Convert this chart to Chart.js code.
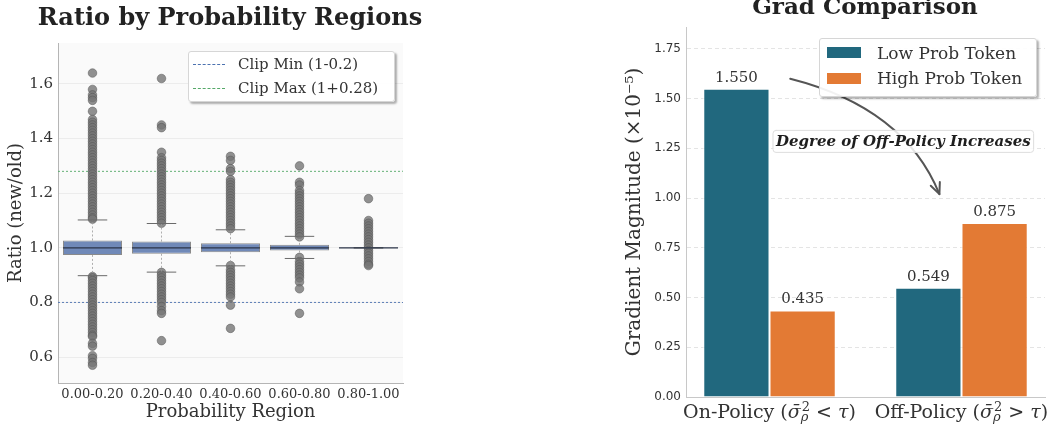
<!DOCTYPE html>
<html>
<head>
<meta charset="utf-8">
<script src="https://cdn.jsdelivr.net/npm/chart.js@4.4.1/dist/chart.umd.min.js"></script>
<style>
  body { margin: 0; width: 1056px; height: 430px; position: relative; overflow: hidden; background: #fff; font-family: 'DejaVu Serif', serif; }
  .panel { position: absolute; top: 0; height: 430px; }
  .title { position: absolute; font-weight: bold; line-height: 23px; white-space: nowrap; transform: translateX(-50%); color: #222; }
  .legend { position: absolute; background: rgba(255,255,255,0.92); border: 1px solid #d6d6d6; border-radius: 3px; box-shadow: 2px 2px 2px rgba(0,0,0,0.3); box-sizing: border-box; }
  .row { position: absolute; left: 0; right: 0; display: flex; align-items: center; white-space: nowrap; color: #333; }
</style>
</head>
<body>
<div class="panel" style="left:0;width:410px"><canvas id="ratioChart"></canvas></div>
<div class="panel" style="left:600px;width:456px"><canvas id="gradChart"></canvas></div>

<div class="title" style="left:230px;top:5px;font-size:24px">Ratio by Probability Regions</div>
<div class="title" style="left:865px;top:-6px;font-size:23px">Grad Comparison</div>

<div class="legend" style="left:188px;top:51px;width:207px;height:51px">
  <div class="row" style="top:0;height:24px;font-size:15px">
    <span style="display:block;width:32px;margin-left:4px;border-top:1px dashed #4C72B0"></span>
    <span style="margin-left:13px">Clip Min (1-0.2)</span>
  </div>
  <div class="row" style="top:24px;height:24px;font-size:15px">
    <span style="display:block;width:32px;margin-left:4px;border-top:1px dashed #55A868"></span>
    <span style="margin-left:13px">Clip Max (1+0.28)</span>
  </div>
</div>

<div class="legend" style="left:819px;top:38px;width:218px;height:59px">
  <div class="row" style="top:0;height:27px;font-size:17px">
    <span style="display:block;width:34px;height:11px;margin-left:7px;background:#21687E"></span>
    <span style="margin-left:16px">Low Prob Token</span>
  </div>
  <div class="row" style="top:26px;height:26px;font-size:17px">
    <span style="display:block;width:34px;height:11px;margin-left:7px;background:#E37A34"></span>
    <span style="margin-left:16px">High Prob Token</span>
  </div>
</div>

<script>
// left panel: ratio boxplots
const regions = ['0.00-0.20', '0.20-0.40', '0.40-0.60', '0.60-0.80', '0.80-1.00'];
const boxQ1 = [0.974, 0.978, 0.984, 0.990, 1.000];
const boxMedian = [1.000, 1.000, 1.000, 1.000, 1.000];
const boxQ3 = [1.027, 1.023, 1.017, 1.011, 1.000];
const whiskerLow = [0.898, 0.911, 0.934, 0.961, 1.000];
const whiskerHigh = [1.102, 1.089, 1.066, 1.042, 1.000];

const outliers0 = [1.64, 1.58, 1.56, 1.55, 1.54, 1.50, 1.47, 1.46, 1.45, 1.44, 1.43, 1.42, 1.41, 1.40, 1.39, 1.38,
  1.37, 1.36, 1.35, 1.34, 1.33, 1.32, 1.31, 1.30, 1.29, 1.28, 1.27, 1.26, 1.25, 1.24, 1.23, 1.22, 1.21, 1.20,
  1.19, 1.18, 1.17, 1.16, 1.15, 1.14, 1.13, 1.12, 1.11, 1.105,
  0.895, 0.89, 0.88, 0.87, 0.86, 0.85, 0.84, 0.83, 0.82, 0.81, 0.80, 0.79, 0.78, 0.77, 0.76, 0.75, 0.74, 0.73,
  0.72, 0.71, 0.70, 0.69, 0.68, 0.675, 0.65, 0.64, 0.605, 0.595, 0.58, 0.57];
const outliers1 = [1.62, 1.45, 1.44, 1.35, 1.33, 1.32, 1.31, 1.30, 1.29, 1.28, 1.27, 1.26, 1.25, 1.24, 1.23, 1.22,
  1.21, 1.20, 1.19, 1.18, 1.17, 1.16, 1.15, 1.14, 1.13, 1.12, 1.11, 1.10, 1.09,
  0.91, 0.90, 0.89, 0.88, 0.87, 0.86, 0.85, 0.84, 0.83, 0.82, 0.81, 0.80, 0.785, 0.77, 0.76, 0.66];
const outliers2 = [1.335, 1.32, 1.29, 1.28, 1.25, 1.24, 1.23, 1.22, 1.21, 1.20, 1.19, 1.18, 1.17, 1.16, 1.15, 1.14,
  1.13, 1.12, 1.11, 1.10, 1.09, 1.08, 1.07,
  0.935, 0.92, 0.91, 0.90, 0.89, 0.88, 0.87, 0.86, 0.85, 0.84, 0.83, 0.82, 0.79, 0.705];
const outliers3 = [1.30, 1.24, 1.23, 1.21, 1.20, 1.19, 1.18, 1.17, 1.16, 1.15, 1.14, 1.13, 1.12, 1.11, 1.10, 1.09,
  1.08, 1.07, 1.06, 1.05, 1.04,
  0.965, 0.95, 0.94, 0.93, 0.92, 0.91, 0.90, 0.89, 0.875, 0.85, 0.76];
const outliers4 = [1.18, 1.10, 1.09, 1.08, 1.07, 1.06, 1.05, 1.04, 1.03, 1.02, 1.01, 1.00, 0.99, 0.98, 0.97, 0.96,
  0.95, 0.94, 0.935];
const outlierValues = [outliers0, outliers1, outliers2, outliers3, outliers4];

const clipMin = 0.8;
const clipMax = 1.28;

// right panel: gradient bars
const policyNames = ['On-Policy', 'Off-Policy'];
const policyRelations = ['<', '>'];
const policyPos = [0, 1];
const lowProbGrad = [1.550, 0.549];
const highProbGrad = [0.435, 0.875];

const noteText = 'Degree of Off-Policy Increases';
const arrowFrom = { x: 0.108, y: 1.60 };
const arrowBend = { x: 0.703, y: 1.454 };
const arrowTo = { x: 0.885, y: 1.02 };
const noteAt = { x: 0.697, y: 1.285 };

const SERIF = 'DejaVu Serif';

const plotBackground = {
  id: 'plotBackground',
  beforeDraw(chart, args, opts) {
    const a = chart.chartArea;
    chart.ctx.save();
    chart.ctx.fillStyle = opts.color;
    chart.ctx.fillRect(a.left, a.top, a.right - a.left, a.bottom - a.top);
    chart.ctx.restore();
  }
};

const clipLines = {
  id: 'clipLines',
  beforeDatasetsDraw(chart) {
    const ctx = chart.ctx, a = chart.chartArea, y = chart.scales.y;
    ctx.save();
    ctx.lineWidth = 1;
    ctx.setLineDash([2, 2]);
    [[clipMin, 'rgba(76,114,176,0.9)'], [clipMax, 'rgba(85,168,104,0.9)']].forEach(([v, c]) => {
      const py = y.getPixelForValue(v);
      ctx.strokeStyle = c;
      ctx.beginPath();
      ctx.moveTo(a.left, py);
      ctx.lineTo(a.right, py);
      ctx.stroke();
    });
    ctx.restore();
  }
};

const boxWhiskers = {
  id: 'boxWhiskers',
  afterDatasetsDraw(chart) {
    const ctx = chart.ctx;
    const y = chart.scales.y;
    const meta = chart.getDatasetMeta(0);
    ctx.save();
    meta.data.forEach((bar, i) => {
      const x = bar.x;
      const half = bar.width / 2;
      ctx.setLineDash([2, 2]);
      ctx.strokeStyle = '#9a9a9a';
      ctx.lineWidth = 0.8;
      ctx.beginPath();
      ctx.moveTo(x, y.getPixelForValue(boxQ3[i]));
      ctx.lineTo(x, y.getPixelForValue(whiskerHigh[i]));
      ctx.moveTo(x, y.getPixelForValue(boxQ1[i]));
      ctx.lineTo(x, y.getPixelForValue(whiskerLow[i]));
      ctx.stroke();
      ctx.setLineDash([]);
      ctx.strokeStyle = '#6a6a6a';
      ctx.lineWidth = 1;
      ctx.beginPath();
      [whiskerLow[i], whiskerHigh[i]].forEach(v => {
        const py = y.getPixelForValue(v);
        ctx.moveTo(x - half / 2, py);
        ctx.lineTo(x + half / 2, py);
      });
      ctx.stroke();
      ctx.strokeStyle = '#2b3448';
      ctx.lineWidth = 1.3;
      ctx.beginPath();
      const my = y.getPixelForValue(boxMedian[i]);
      ctx.moveTo(x - half, my);
      ctx.lineTo(x + half, my);
      ctx.stroke();
    });
    ctx.restore();
  }
};

const outlierPoints = [];
outlierValues.forEach((vals, i) => vals.forEach(v => outlierPoints.push({ x: regions[i], y: v })));

new Chart(document.getElementById('ratioChart'), {
  type: 'bar',
  data: {
    labels: regions,
    datasets: [{
      label: 'box',
      data: boxQ1.map((v, i) => [v, boxQ3[i]]),
      backgroundColor: '#7089B8',
      borderColor: '#8a8a8a',
      borderWidth: 1,
      borderSkipped: false,
      grouped: false,
      categoryPercentage: 1,
      barPercentage: 0.855,
      order: 1
    }, {
      type: 'scatter',
      label: 'outliers',
      data: outlierPoints,
      backgroundColor: 'rgba(118,118,118,0.8)',
      borderColor: 'rgba(80,80,80,0.6)',
      borderWidth: 0.8,
      pointRadius: 4.3,
      order: 2
    }]
  },
  options: {
    responsive: true,
    maintainAspectRatio: false,
    animation: false,
    layout: { padding: { top: 43, right: 7, left: 0, bottom: 0 } },
    plugins: {
      legend: { display: false },
      tooltip: { enabled: false },
      plotBackground: { color: '#fafafa' }
    },
    scales: {
      x: {
        type: 'category',
        grid: { display: false, drawTicks: false },
        border: { display: true, color: '#b5b5b5' },
        ticks: { font: { family: SERIF, size: 13 }, color: '#333', padding: 4, maxRotation: 0, autoSkip: false },
        title: { display: true, text: 'Probability Region', font: { family: SERIF, size: 18 }, color: '#333', padding: { top: 0, bottom: 7 } },
        afterFit: s => { s.height = 47; }
      },
      y: {
        min: 0.505,
        max: 1.75,
        grid: { color: '#ececec', drawTicks: false },
        border: { display: true, color: '#b5b5b5' },
        ticks: { stepSize: 0.2, includeBounds: false, font: { family: SERIF, size: 15 }, color: '#333', padding: 5, callback: v => v.toFixed(1) },
        title: { display: true, text: 'Ratio (new/old)', font: { family: SERIF, size: 18 }, color: '#333', padding: { top: 6, bottom: 0 } },
        afterFit: s => { s.width = 58; }
      }
    }
  },
  plugins: [plotBackground, clipLines, boxWhiskers]
});

const valueLabels = {
  id: 'valueLabels',
  afterDatasetsDraw(chart) {
    const ctx = chart.ctx;
    ctx.save();
    ctx.font = '15px "' + SERIF + '"';
    ctx.fillStyle = '#333';
    ctx.textAlign = 'center';
    ctx.textBaseline = 'alphabetic';
    chart.data.datasets.forEach((ds, d) => {
      chart.getDatasetMeta(d).data.forEach((bar, i) => {
        ctx.fillText(ds.data[i].y.toFixed(3), bar.x, bar.y - 7);
      });
    });
    ctx.restore();
  }
};

const offPolicyArrow = {
  id: 'offPolicyArrow',
  afterDatasetsDraw(chart) {
    const ctx = chart.ctx;
    const xs = chart.scales.x, ys = chart.scales.y;
    const p0 = [xs.getPixelForValue(arrowFrom.x), ys.getPixelForValue(arrowFrom.y)];
    const c = [xs.getPixelForValue(arrowBend.x), ys.getPixelForValue(arrowBend.y)];
    const p1 = [xs.getPixelForValue(arrowTo.x), ys.getPixelForValue(arrowTo.y)];
    ctx.save();
    ctx.strokeStyle = '#555';
    ctx.lineWidth = 2;
    ctx.lineCap = 'round';
    ctx.beginPath();
    ctx.moveTo(p0[0], p0[1]);
    ctx.quadraticCurveTo(c[0], c[1], p1[0], p1[1]);
    ctx.stroke();
    const ang = Math.atan2(p1[1] - c[1], p1[0] - c[0]);
    const len = 12;
    ctx.beginPath();
    [-0.42, 0.42].forEach(off => {
      ctx.moveTo(p1[0], p1[1]);
      ctx.lineTo(p1[0] - len * Math.cos(ang + off), p1[1] - len * Math.sin(ang + off));
    });
    ctx.stroke();

    const nx = xs.getPixelForValue(noteAt.x), ny = ys.getPixelForValue(noteAt.y);
    ctx.font = 'italic bold 15px "' + SERIF + '"';
    const w = ctx.measureText(noteText).width;
    ctx.fillStyle = 'rgba(255,255,255,0.85)';
    ctx.strokeStyle = '#dddddd';
    ctx.lineWidth = 1;
    ctx.beginPath();
    ctx.roundRect(nx - w / 2 - 3, ny - 11, w + 6, 22, 3);
    ctx.fill();
    ctx.stroke();
    ctx.fillStyle = '#1e1e1e';
    ctx.textAlign = 'center';
    ctx.textBaseline = 'middle';
    ctx.fillText(noteText, nx, ny + 1);
    ctx.restore();
  }
};

const policyTicks = {
  id: 'policyTicks',
  afterDraw(chart) {
    const ctx = chart.ctx;
    const xs = chart.scales.x;
    const base = xs.top + 21;
    const big = '19px "' + SERIF + '"', bigIt = 'italic 19px "' + SERIF + '"';
    const small = '13px "' + SERIF + '"', smallIt = 'italic 13px "' + SERIF + '"';
    ctx.save();
    ctx.fillStyle = '#333';
    ctx.textBaseline = 'alphabetic';
    ctx.textAlign = 'left';
    policyNames.forEach((name, i) => {
      const parts = [
        { t: name + ' (', f: big },
        { t: '\u03C3\u0304', f: bigIt },
        { sup: '2', sub: '\u03C1' },
        { t: ' ' + policyRelations[i] + ' ', f: big },
        { t: '\u03C4', f: bigIt },
        { t: ')', f: big }
      ];
      parts.forEach(p => {
        if (p.t) { ctx.font = p.f; p.w = ctx.measureText(p.t).width; }
        else {
          ctx.font = small; const a = ctx.measureText(p.sup).width;
          ctx.font = smallIt; const b = ctx.measureText(p.sub).width;
          p.w = Math.max(a, b) + 1;
        }
      });
      const total = parts.reduce((s, p) => s + p.w, 0);
      let x = xs.getPixelForValue(policyPos[i]) - total / 2;
      parts.forEach(p => {
        if (p.t) { ctx.font = p.f; ctx.fillText(p.t, x, base); }
        else {
          ctx.font = small; ctx.fillText(p.sup, x + 1, base - 7);
          ctx.font = smallIt; ctx.fillText(p.sub, x, base + 3);
        }
        x += p.w;
      });
    });
    ctx.restore();
  }
};

new Chart(document.getElementById('gradChart'), {
  type: 'bar',
  data: {
    datasets: [{
      label: 'Low Prob Token',
      data: policyPos.map((p, i) => ({ x: p, y: lowProbGrad[i] })),
      backgroundColor: '#21687E',
      borderColor: '#ffffff',
      borderWidth: 1,
      categoryPercentage: 0.69,
      barPercentage: 1
    }, {
      label: 'High Prob Token',
      data: policyPos.map((p, i) => ({ x: p, y: highProbGrad[i] })),
      backgroundColor: '#E37A34',
      borderColor: '#ffffff',
      borderWidth: 1,
      categoryPercentage: 0.69,
      barPercentage: 1
    }]
  },
  options: {
    responsive: true,
    maintainAspectRatio: false,
    animation: false,
    layout: { padding: { top: 27, right: 11, left: 0, bottom: 0 } },
    plugins: {
      legend: { display: false },
      tooltip: { enabled: false }
    },
    scales: {
      x: {
        type: 'linear',
        min: -0.435,
        max: 1.435,
        offset: false,
        grid: { display: false, drawTicks: false, offset: false },
        border: { display: true, color: '#c8c8c8' },
        ticks: { display: false, stepSize: 1, includeBounds: false },
        afterFit: s => { s.height = 33; }
      },
      y: {
        min: 0,
        max: 1.86,
        grid: { color: '#e4e4e4', drawTicks: false },
        border: { display: true, color: '#c8c8c8', dash: [4, 3] },
        ticks: { stepSize: 0.25, includeBounds: false, font: { family: 'DejaVu Sans', size: 12 }, color: '#333', padding: 5, callback: v => v.toFixed(2) },
        title: { display: true, text: 'Gradient Magnitude (\u00D710\u207B\u2075)', font: { family: SERIF, size: 20 }, color: '#333', padding: { top: 23, bottom: 0 } },
        afterFit: s => { s.width = 86; }
      }
    }
  },
  plugins: [valueLabels, offPolicyArrow, policyTicks]
});
</script>
</body>
</html>
